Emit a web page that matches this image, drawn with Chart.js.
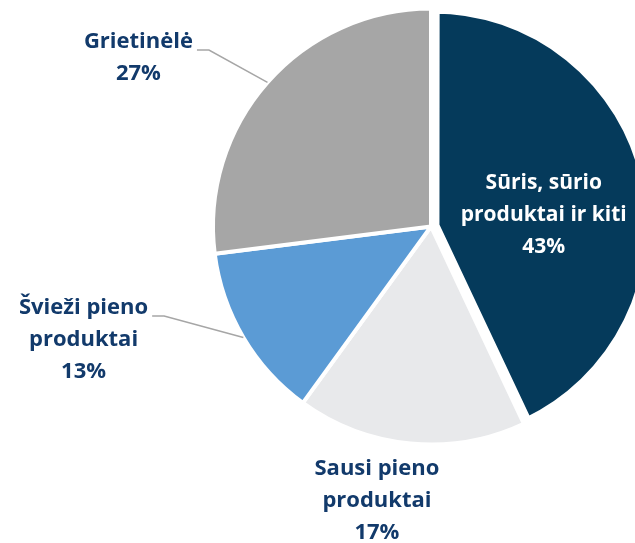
<!DOCTYPE html>
<html>
<head>
<meta charset="utf-8">
<script src="https://cdn.jsdelivr.net/npm/chart.js@4/dist/chart.umd.min.js"></script>
<style>
    html, body { margin: 0; padding: 0; background: #fff; overflow: hidden; }
    #wrap { position: absolute; left: 0; top: 0; width: 870px; height: 543px; }
</style>
</head>
<body>
<div id="wrap"><canvas id="pie" width="870" height="543"></canvas></div>
<script>
(function () {
    "use strict";

    // data
    const categories = [
        ["Sūris, sūrio", "produktai ir kiti"],
        ["Sausi pieno", "produktai"],
        ["Švieži pieno", "produktai"],
        ["Grietinėlė"],
    ];
    const shares = [43, 17, 13, 27];
    const sliceColors = ["#053A5B", "#E8E9EB", "#5B9BD5", "#A6A6A6"];
    const textColors = ["#FFFFFF", "#123A6B", "#123A6B", "#123A6B"];

    // label placement: distance along mid angle (x radius) + nudge
    const placement = [
        { dist: 0.53, dx: 0, dy: 14, size: 21, leader: false },
        { dist: 1.27, dx: -28, dy: -1, size: 22, leader: false },
        { dist: 1.5, dx: -66, dy: -53, size: 22, leader: true },
        { dist: 1.3, dx: -80, dy: 19, size: 22, leader: true },
    ];
    const LINE = 32;

    const sliceLabels = {
        id: "sliceLabels",
        afterDatasetsDraw(chart) {
            const ctx = chart.ctx;
            const arcs = chart.getDatasetMeta(0).data;
            ctx.save();
            ctx.textAlign = "center";
            ctx.textBaseline = "middle";
            arcs.forEach((arc, i) => {
                const p = arc.getProps(["x", "y", "startAngle", "endAngle", "outerRadius"], true);
                const mid = (p.startAngle + p.endAngle) / 2;
                const pl = placement[i];
                const cx = p.x + Math.cos(mid) * p.outerRadius * pl.dist + pl.dx;
                const cy = p.y + Math.sin(mid) * p.outerRadius * pl.dist + pl.dy;
                const lines = categories[i].concat([shares[i] + "%"]);
                const top = cy - (lines.length - 1) * LINE / 2;
                ctx.font = "bold " + pl.size + "px 'Open Sans'";
                ctx.fillStyle = textColors[i];
                lines.forEach((t, k) => ctx.fillText(t, cx, top + k * LINE));
                if (pl.leader) {
                    const w = ctx.measureText(lines[0]).width;
                    const x0 = cx + w / 2 + 4;
                    const y0 = top + 8;
                    ctx.beginPath();
                    ctx.moveTo(x0, y0);
                    ctx.lineTo(x0 + 12, y0);
                    ctx.lineTo(p.x + Math.cos(mid) * p.outerRadius, p.y + Math.sin(mid) * p.outerRadius);
                    ctx.strokeStyle = "#A6A6A6";
                    ctx.lineWidth = 1.5;
                    ctx.stroke();
                }
            });
            ctx.restore();
        },
    };

    new Chart(document.getElementById("pie"), {
        type: "pie",
        data: {
            labels: categories.map((c) => c.join(" ")),
            datasets: [
                {
                    data: shares,
                    backgroundColor: sliceColors,
                    borderColor: "#FFFFFF",
                    borderWidth: [13, 4, 4, 4],
                    offset: [8, 0, 0, 0],
                },
            ],
        },
        options: {
            responsive: false,
            animation: false,
            devicePixelRatio: 1,
            radius: 218,
            layout: {
                padding: { top: 0, bottom: 90, left: 0, right: 8 },
            },
            plugins: {
                legend: { display: false },
                tooltip: { enabled: false },
            },
        },
        plugins: [sliceLabels],
    });
})();
</script>
</body>
</html>
